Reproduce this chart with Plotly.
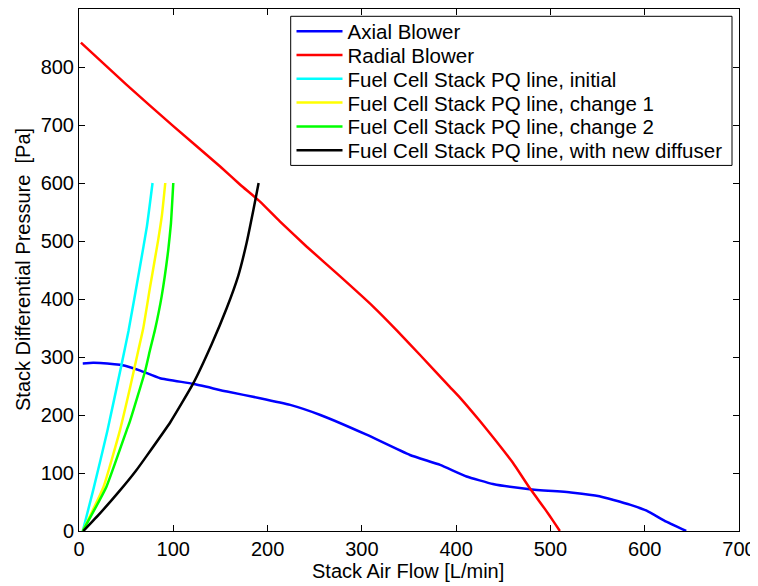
import plotly.graph_objects as go

# Axial blower curve
axial_x = [4, 15, 30, 43.5, 55, 65, 86, 121, 157, 192, 224, 256, 305, 351, 383, 411, 439, 478, 524, 552, 567, 585, 602, 623, 644]
axial_y = [289, 290, 289, 286.5, 282, 276.6, 263.5, 253.7, 240.4, 229, 217.4, 200, 166, 131, 114, 94, 81, 72, 66, 60, 53.5, 45, 35, 16, 0]

# Radial blower curve
radial_x = [2, 50, 100, 150, 171, 192, 213, 241, 277, 312, 337, 362, 393, 404, 425, 440, 460, 478, 495, 503, 510]
radial_y = [842, 770, 698, 628, 597, 568, 534, 491, 439, 387, 346, 303, 249, 230, 190, 160, 118, 74, 36, 17, 0]

# Fuel cell stack PQ lines
init_x = [4, 15, 30, 45, 52.5, 64.7, 72, 78]
init_y = [0, 70, 172, 286, 345, 456, 525, 600]

ch1_x = [4, 26, 43.5, 54, 63, 68.2, 75.3, 84, 88, 91.5]
ch1_y = [0, 76, 174, 246, 312, 350, 420, 502, 545, 600]

ch2_x = [4, 29, 50.6, 54, 70, 75.3, 80.6, 87.7, 94.7, 97.5, 100]
ch2_y = [0, 76, 174, 189, 275, 312, 347, 405, 485, 530, 600]

diff_x = [4.6, 22, 43.5, 60, 72, 97, 121, 140.7, 156.6, 168.9, 177.8, 184.9, 190.5]
diff_y = [0, 30, 70, 103, 130, 188, 254, 322, 384, 440, 497, 553, 600]

x_title = "Stack Air Flow [L/min]"
y_title = "Stack Differential Pressure  [Pa]"

series = [
    ("Axial Blower", axial_x, axial_y, "#0000ff"),
    ("Radial Blower", radial_x, radial_y, "#ff0000"),
    ("Fuel Cell Stack PQ line, initial", init_x, init_y, "#00ffff"),
    ("Fuel Cell Stack PQ line, change 1", ch1_x, ch1_y, "#ffff00"),
    ("Fuel Cell Stack PQ line, change 2", ch2_x, ch2_y, "#00ff00"),
    ("Fuel Cell Stack PQ line, with new diffuser", diff_x, diff_y, "#000000"),
]

FONT = "Liberation Sans, Arial, Helvetica, sans-serif"

# page body has an 8px margin: figure is 750x578 so the plot lands on the reference's pixels
PLOT_L, PLOT_R, PLOT_T, PLOT_B = 79, 739, 9.4, 531


def px_x(p):
    return (p - PLOT_L) / (PLOT_R - PLOT_L)


def px_y(p):
    return (PLOT_B - p) / (PLOT_B - PLOT_T)


row_centers = [31.7, 55.5, 79.3, 103.1, 126.9, 150.7]

fig = go.Figure()
layout_legends = {}
for i, (name, xs, ys, col) in enumerate(series):
    lname = "legend" if i == 0 else f"legend{i + 1}"
    fig.add_trace(go.Scatter(x=xs, y=ys, mode="lines", name=name, legend=lname,
                             line=dict(color=col, width=2.5, shape="spline", smoothing=0.4)))
    layout_legends[lname] = dict(
        x=px_x(291.5), y=px_y(row_centers[i]), xanchor="left", yanchor="middle",
        bgcolor="rgba(0,0,0,0)", borderwidth=0, itemwidth=46,
        font=dict(family=FONT, size=20.5, color="black"))

axis_common = dict(showgrid=False, zeroline=False, showline=True, linecolor="black",
                   linewidth=1, mirror="ticks", ticks="inside", ticklen=6,
                   tickcolor="black", dtick=100, automargin=False,
                   tickfont=dict(family=FONT, size=20, color="black"))

fig.update_layout(
    width=750, height=578,
    margin=dict(l=71, r=19, t=1, b=55),
    paper_bgcolor="white", plot_bgcolor="white",
    font=dict(family=FONT, size=20, color="black"),
    xaxis=dict(range=[0, 700], **axis_common),
    yaxis=dict(range=[0, 900], **axis_common),
    showlegend=True,
    shapes=[dict(type="rect", xref="paper", yref="paper",
                 x0=px_x(290.7), x1=px_x(732), y0=px_y(165.7), y1=px_y(16.7),
                 line=dict(color="black", width=1), fillcolor="white", layer="below")],
    annotations=[
        dict(text=x_title, xref="paper", yref="paper", x=px_x(408), y=px_y(571),
             xanchor="center", yanchor="middle", showarrow=False,
             font=dict(family=FONT, size=20, color="black")),
        dict(text=y_title, xref="paper", yref="paper", x=px_x(23), y=0.5,
             xanchor="center", yanchor="middle", showarrow=False, textangle=-90,
             font=dict(family=FONT, size=20, color="black")),
    ],
    **layout_legends,
)

fig.write_html("out.html")
